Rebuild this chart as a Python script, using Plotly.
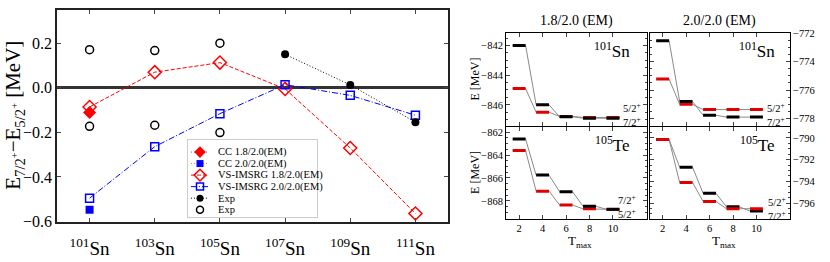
import plotly.graph_objects as go

SERIF = "Liberation Serif"
W, H = 830, 262

# ---------------- data: left panel ----------------
nuclei = ["101", "103", "105", "107", "109", "111"]
nucleus_labels = [f"<sup>{a}</sup>Sn" for a in nuclei]
cc_18 = [-0.111, None, None, None, None, None]
cc_20 = [-0.547, None, None, None, None, None]
vs_18 = [-0.086, 0.070, 0.113, -0.005, -0.270, -0.564]
vs_20 = [-0.495, -0.264, -0.116, 0.014, -0.034, -0.123]
exp_filled = [None, None, None, 0.150, 0.013, -0.154]
exp_open_hi = [0.171, 0.167, 0.200, None, None, None]
exp_open_lo = [-0.173, -0.168, -0.201, None, None, None]
y_ticks = [-0.6, -0.4, -0.2, 0.0, 0.2]

legend_labels = ["CC 1.8/2.0(EM)", "CC 2.0/2.0(EM)", "VS-IMSRG 1.8/2.0(EM)",
                 "VS-IMSRG 2.0/2.0(EM)", "Exp", "Exp"]

# ---------------- data: right panels (Tmax convergence) ----------------
tmax = [2, 4, 6, 8, 10]
sn101_18_72 = [-842.00, -846.00, -846.80, -846.90, -846.90]
sn101_18_52 = [-844.90, -846.50, -846.78, -846.85, -846.85]
sn101_20_72 = [-772.53, -776.80, -777.77, -777.90, -777.90]
sn101_20_52 = [-775.23, -777.00, -777.37, -777.37, -777.37]
te105_18_72 = [-862.60, -865.75, -867.20, -868.47, -868.74]
te105_18_52 = [-863.60, -867.15, -868.36, -868.70, -868.75]
te105_20_72 = [-790.15, -792.70, -795.10, -796.35, -796.73]
te105_20_52 = [-790.15, -794.10, -795.86, -796.52, -796.52]

fig = go.Figure()

RED, BLUE = "#ff0000", "#0000ff"
xs_idx = list(range(len(nuclei)))

styles = [
    dict(line=dict(color="#1f77b4", width=1, dash="1px,2px"),
         marker=dict(symbol="diamond", size=10, color=RED, line=dict(width=0))),
    dict(line=dict(color="#ff7f0e", width=1, dash="1px,2px"),
         marker=dict(symbol="square", size=8, color=BLUE, line=dict(width=0))),
    dict(line=dict(color=RED, width=1, dash="4px,2px"),
         marker=dict(symbol="diamond-open", size=10, color=RED, line=dict(width=1.5, color=RED))),
    dict(line=dict(color=BLUE, width=1, dash="6px,2px,1px,2px"),
         marker=dict(symbol="square-open", size=8, color=BLUE, line=dict(width=1.5, color=BLUE))),
    dict(line=dict(color="black", width=1, dash="1px,2px"),
         marker=dict(symbol="circle", size=8, color="black", line=dict(width=0))),
    dict(line=None,
         marker=dict(symbol="circle-open", size=8, color="black", line=dict(width=1.5, color="black"))),
]

series = [cc_18, cc_20, vs_18, vs_20, exp_filled]
for s, st in zip(series, styles[:5]):
    fig.add_trace(go.Scatter(x=xs_idx, y=s, mode="lines+markers", line=st["line"],
                             marker=st["marker"], xaxis="x", yaxis="y",
                             showlegend=False, connectgaps=False))
fig.add_trace(go.Scatter(x=xs_idx + xs_idx, y=exp_open_hi + exp_open_lo, mode="markers",
                         marker=styles[5]["marker"], xaxis="x", yaxis="y", showlegend=False))

# custom compact legend on its own small axes
for i, (lab, st) in enumerate(zip(legend_labels, styles)):
    if st["line"] is not None:
        fig.add_trace(go.Scatter(x=[0.023, 0.163], y=[i, i], mode="lines", line=st["line"],
                                 xaxis="x6", yaxis="y6", showlegend=False, hoverinfo="skip"))
    mk = dict(st["marker"])
    mk["size"] = max(mk["size"] - 1, 6)
    fig.add_trace(go.Scatter(x=[0.093], y=[i], mode="markers", marker=mk,
                             xaxis="x6", yaxis="y6", showlegend=False, hoverinfo="skip"))

# ---------------- right panels ----------------
BW = 0.55


def add_levels(xa, ya, e72, e52, red_on_top=False):
    for e in (e52, e72):
        xs, ys = [], []
        for t, v in zip(tmax, e):
            xs += [t - BW, t + BW]
            ys += [v, v]
        fig.add_trace(go.Scatter(x=xs, y=ys, mode="lines", line=dict(color="#8a8a8a", width=1),
                                 xaxis=xa, yaxis=ya, showlegend=False, hoverinfo="skip"))
    order = [(e72, "black"), (e52, "#e00000")] if red_on_top else [(e52, "#e00000"), (e72, "black")]
    for e, c in order:
        xs, ys = [], []
        for t, v in zip(tmax, e):
            xs += [t - BW, t + BW, None]
            ys += [v, v, None]
        fig.add_trace(go.Scatter(x=xs, y=ys, mode="lines", line=dict(color=c, width=3),
                                 xaxis=xa, yaxis=ya, showlegend=False, hoverinfo="skip"))


add_levels("x2", "y2", sn101_18_72, sn101_18_52)
add_levels("x3", "y3", sn101_20_72, sn101_20_52)
add_levels("x4", "y4", te105_18_72, te105_18_52)
add_levels("x5", "y5", te105_20_72, te105_20_52, red_on_top=True)


def px(x):
    return x / W


def py(y):
    return 1 - y / H


axis_common = dict(showgrid=False, zeroline=False, showline=True, linecolor="black",
                   linewidth=1, mirror="ticks", ticks="inside",
                   tickfont=dict(family=SERIF, size=10.5, color="black"))

TLx = [px(506), px(646.5)]
TRx = [px(649.5), px(790)]
TOPy = [py(127.7), py(29.3)]
BOTy = [py(225), py(128.3)]
XR = [0.88, 12.86]

layout = dict(
    width=W, height=H, margin=dict(l=0, r=0, t=0, b=0),
    paper_bgcolor="white", plot_bgcolor="white", showlegend=False,
    font=dict(family=SERIF, color="black"),
    xaxis=dict(domain=[px(57), px(448)], range=[-0.5, 5.5], tickvals=xs_idx,
               ticktext=nucleus_labels, showgrid=False, zeroline=False, showline=True,
               linecolor="#222", linewidth=1.5, mirror="ticks", ticks="inside", ticklen=4,
               ticklabelstandoff=9,
               tickfont=dict(family=SERIF, size=19, color="black"), anchor="y"),
    yaxis=dict(domain=[py(228), py(5)], range=[-0.6005, 0.35], tickvals=y_ticks,
               tickformat=".1f", showgrid=False, zeroline=True, zerolinecolor="#333",
               zerolinewidth=3, showline=True, linecolor="#222", linewidth=1.5,
               mirror="ticks", ticks="inside", ticklen=4,
               tickfont=dict(family=SERIF, size=16, color="black"), anchor="x"),
    xaxis6=dict(domain=[px(188), px(317)], range=[0, 1], showticklabels=False,
                showgrid=False, zeroline=False, showline=True, mirror=True,
                linecolor="#cccccc", linewidth=1, ticks="", anchor="y6"),
    yaxis6=dict(domain=[py(223), py(142)], range=[5.63, -1.05], showticklabels=False,
                showgrid=False, zeroline=False, showline=True, mirror=True,
                linecolor="#cccccc", linewidth=1, ticks="", anchor="x6"),
)

for n, xd, yd, xr_lab, yside, yr in [
    (2, TLx, TOPy, False, "left", [-847.45, -841.15]),
    (3, TRx, TOPy, False, "right", [-778.55, -771.98]),
    (4, TLx, BOTy, True, "left", [-869.57, -861.54]),
    (5, TRx, BOTy, True, "right", [-797.45, -789.0]),
]:
    layout[f"xaxis{n}"] = dict(axis_common, domain=xd, range=XR, tickvals=tmax,
                               showticklabels=xr_lab, ticklen=4, ticklabelstandoff=0,
                               anchor=f"y{n}")
    layout[f"yaxis{n}"] = dict(axis_common, domain=yd, range=yr, dtick=2, tick0=0,
                               side=yside, ticklen=4, anchor=f"x{n}",
                               minor=dict(ticks="inside", ticklen=2, dtick=0.5, tick0=0))

fig.update_layout(**layout)

ann = []


def A(text, x, y, size, xanchor="center", yanchor="middle", angle=0, xref="paper", yref="paper"):
    ann.append(dict(text=text, x=x, y=y, xref=xref, yref=yref, xanchor=xanchor,
                    yanchor=yanchor, textangle=angle, showarrow=False,
                    font=dict(family=SERIF, size=size, color="black")))


A("E<sub>7/2<sup>+</sup></sub>−E<sub>5/2<sup>+</sup></sub> [MeV]", px(14.5), py(116), 21, angle=-90)
for i, lab in enumerate(legend_labels):
    A(lab, 0.217, i, 10.5, xanchor="left", xref="x6", yref="y6")

A("1.8/2.0 (EM)", px(576.3), py(17), 14)
A("2.0/2.0 (EM)", px(719.8), py(17), 14)
A("E [MeV]", px(475), py(78.5), 12, angle=-90)
A("E [MeV]", px(475), py(176.7), 12, angle=-90)
A("<sup>101</sup>Sn", px(632), py(47), 17, xanchor="right")
A("<sup>101</sup>Sn", px(777), py(47), 17, xanchor="right")
A("<sup>105</sup>Te", px(632), py(146), 17, xanchor="right")
A("<sup>105</sup>Te", px(777), py(146), 17, xanchor="right")
A("T<sub>max</sub>", px(580), py(249), 13)
A("T<sub>max</sub>", px(724), py(249), 13)
A("5/2<sup>+</sup><br>7/2<sup>+</sup>", px(621), py(115.5), 10.5, xanchor="left")
A("5/2<sup>+</sup><br>7/2<sup>+</sup>", px(765), py(114.9), 10.5, xanchor="left")
A("7/2<sup>+</sup><br>5/2<sup>+</sup>", px(616), py(212.4), 10.5, xanchor="left")
A("5/2<sup>+</sup><br>7/2<sup>+</sup>", px(765.5), py(213.9), 10.5, xanchor="left")

fig.update_layout(annotations=ann)
fig.write_html("out.html", config={"displayModeBar": False},
               post_script="document.body.style.margin='0px';")
